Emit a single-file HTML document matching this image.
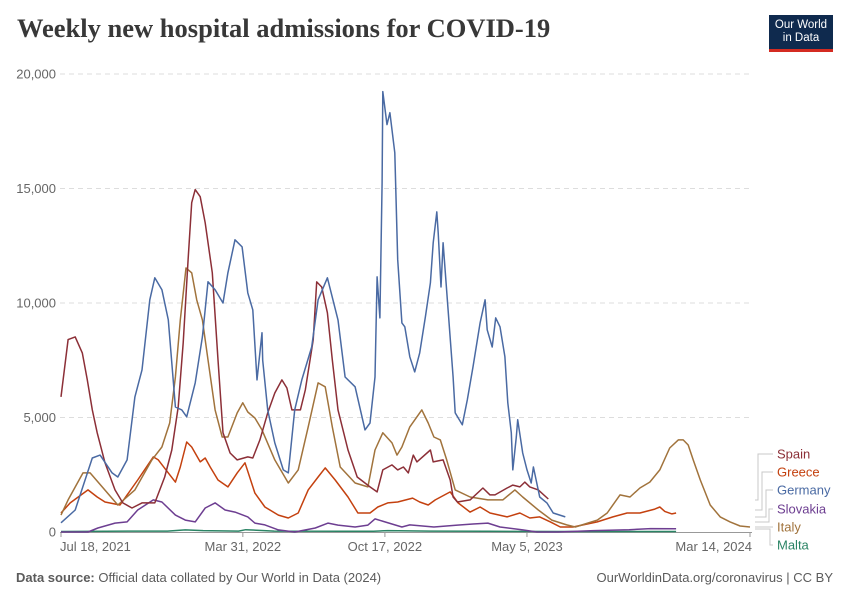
<!DOCTYPE html>
<html><head><meta charset="utf-8">
<style>
body{margin:0;background:#fff;font-family:"Liberation Sans",sans-serif;}
#wrap{position:relative;width:850px;height:600px;overflow:hidden;}
.title{position:absolute;left:17px;top:13px;font-family:"Liberation Serif",serif;font-weight:bold;font-size:26.5px;color:#383838;letter-spacing:0px}
.logo{position:absolute;left:769px;top:15px;width:64px;height:37px;background:#0f2a4e;border-bottom:3px solid #d42b21;color:#fff;font-size:11.5px;line-height:13px;text-align:center;padding-top:4px;box-sizing:border-box}
.foot{position:absolute;top:570px;font-size:13px;color:#5b5b5b}
</style></head><body>
<div id="wrap">
<div class="title">Weekly new hospital admissions for COVID-19</div>
<div class="logo">Our World<br>in Data</div>
<svg id="chart" width="850" height="600" style="position:absolute;left:0;top:0"></svg>
<div class="foot" style="left:16px"><b>Data source:</b> Official data collated by Our World in Data (2024)</div>
<div class="foot" style="right:17px">OurWorldinData.org/coronavirus | CC BY</div>
</div>
<script>
// days since Jul 18, 2021
const yTicks=[0,5000,10000,15000,20000];
const yTickLabels=["0","5,000","10,000","15,000","20,000"];
const xTickDays=[0,256,456,656,970];
const xTickLabels=["Jul 18, 2021","Mar 31, 2022","Oct 17, 2022","May 5, 2023","Mar 14, 2024"];
const seriesNames=["Spain","Greece","Germany","Slovakia","Italy","Malta"];
const seriesColors=["#8c2f37","#c4410f","#4a6aa3","#6d3e91","#a1733c","#2b8465"];
const germanyDays=[0,20,44,55,72,80,93,104,114,125,132,142,151,161,170,177,189,199,207,217,228,235,245,255,263,270,276,283,284,291,301,313,320,329,339,353,362,375,390,400,414,428,435,442,445,449,452,453,459,463,470,474,480,484,491,498,505,513,520,524,529,531,535,538,545,552,555,565,572,580,590,597,600,607,612,618,625,629,634,636,641,643,650,656,662,665,674,684,693,710];
const germanyVals=[400,960,3230,3360,2580,2400,3150,5900,7080,10140,11100,10580,9260,5460,5330,5030,6510,8520,10925,10580,10000,11320,12760,12450,10440,9700,6640,8700,7500,5330,3890,2710,2580,5330,6640,8080,10140,11100,9260,6770,6340,4460,4760,6770,11140,9350,15250,19230,17790,18310,16560,11890,9130,8960,7650,6990,7820,9400,10880,12630,13980,13070,10700,12630,9700,6770,5200,4680,5770,7210,9130,10140,8830,8080,9350,8960,7650,5640,4330,2710,4150,4900,3450,2710,2140,2840,1530,1270,830,660,310];
const spainDays=[0,10,20,30,37,44,51,62,76,87,100,114,132,146,156,165,172,179,184,189,196,203,213,221,228,238,248,263,270,280,291,301,311,318,325,337,344,355,360,367,375,382,390,404,417,435,445,453,466,474,482,489,496,501,520,524,538,548,552,558,576,594,604,611,628,636,646,653,660,672,686,694];
const spainVals=[5900,8400,8520,7820,6640,5330,4330,3020,1840,1270,1050,1270,1270,2400,3580,5460,8260,11890,14380,14950,14640,13500,11320,7520,4330,3450,3150,3280,3230,4020,5200,6070,6640,6290,5330,5330,6200,8390,10920,10700,9570,7520,5330,3580,2400,1970,1750,2710,2930,2710,2840,2580,3360,3060,3580,3060,3150,2270,1530,1310,1400,1920,1620,1620,1920,2050,1970,2180,1970,1840,1440];
const italyDays=[0,10,31,41,58,80,104,128,142,153,161,168,176,184,191,199,207,217,227,235,248,256,263,273,283,301,320,334,348,362,372,382,393,414,432,442,453,466,473,480,491,508,517,525,534,543,555,576,601,622,639,650,672,691,712,724,755,769,787,801,815,829,843,857,869,876,883,890,900,914,928,942,956,970];
const italyVals=[740,1400,2580,2580,1970,1180,1840,3150,3710,4760,6770,9260,11530,11320,10140,9260,7520,5330,4150,4150,5200,5640,5240,4980,4460,3150,2140,2710,4590,6510,6340,4590,2840,2140,1970,3580,4330,3890,3360,3710,4590,5330,4760,4150,4020,3150,1840,1530,1400,1400,1840,1530,960,520,310,220,520,830,1620,1530,1920,2180,2710,3670,4020,4020,3800,3150,2270,1180,660,440,260,220];
const greeceDays=[0,13,38,51,62,83,108,130,137,151,161,168,177,184,196,203,210,221,235,248,259,273,287,306,320,334,348,362,372,386,404,418,435,446,460,474,495,505,517,527,548,559,576,590,604,628,646,660,674,689,703,721,755,777,797,815,836,843,850,860,866];
const greeceVals=[830,1270,1840,1530,1310,1180,2270,3280,3150,2580,2180,2840,3930,3710,3060,3230,2840,2270,1970,2580,3020,1700,1090,740,610,830,1840,2400,2800,2270,1530,830,830,1090,1270,1310,1480,1310,1180,1400,1750,1270,870,1090,830,660,830,610,660,440,220,220,440,660,830,830,1000,1090,900,790,830];
const slovakiaDays=[0,38,52,76,93,108,130,142,161,175,189,203,217,231,245,263,273,287,306,329,358,376,390,414,432,442,456,480,491,525,558,580,601,618,650,670,700,750,800,830,866];
const slovakiaVals=[0,0,175,390,440,960,1400,1310,740,520,440,1050,1270,960,870,660,390,310,90,0,175,390,300,220,300,570,440,220,310,220,300,350,390,220,90,0,0,60,100,150,140];
const maltaDays=[0,100,150,175,200,250,260,300,400,440,460,520,600,700,866];
const maltaVals=[20,40,40,90,60,40,100,40,30,30,60,40,30,20,20];

const svg=document.getElementById('chart');
const NS='http://www.w3.org/2000/svg';
const X0=61,X1=750,D1=970,Y0=532,Y1=74,V1=20000;
function xs(d){return X0+d*(X1-X0)/D1;}
function ys(v){return Y0-v*(Y0-Y1)/V1;}
function mk(tag,attrs){const e=document.createElementNS(NS,tag);for(const k in attrs)e.setAttribute(k,attrs[k]);svg.appendChild(e);return e;}
yTicks.forEach((t,i)=>{
  if(t>0){const g=mk('line',{x1:60,x2:752,y1:ys(t),y2:ys(t),stroke:'#dddddd','stroke-dasharray':'5,4'});
  
  }
  const tx=mk('text',{x:56,y:ys(t)+4.5,'text-anchor':'end','font-size':13,fill:'#666','font-family':'Liberation Sans, sans-serif'});
  tx.textContent=yTickLabels[i];
  
  
});
const ax=mk('line',{x1:60,x2:752,y1:Y0+0.5,y2:Y0+0.5,stroke:'#999'});


xTickDays.forEach((d,i)=>{
  const tk=mk('line',{x1:xs(d),x2:xs(d),y1:Y0,y2:Y0+5,stroke:'#999'});
  
  
  const anchor=i===0?'start':(i===xTickDays.length-1?'end':'middle');
  const tx=mk('text',{x:i===0?xs(d)-1:(i===xTickDays.length-1?xs(d)+2:xs(d)),y:551,'text-anchor':anchor,'font-size':13,fill:'#666','font-family':'Liberation Sans, sans-serif'});
  tx.textContent=xTickLabels[i];
  
  
});
const allDays=[spainDays,greeceDays,germanyDays,slovakiaDays,italyDays,maltaDays];
const allVals=[spainVals,greeceVals,germanyVals,slovakiaVals,italyVals,maltaVals];
const drawOrder=[5,3,1,4,0,2];
drawOrder.forEach(i=>{
  const pts=allDays[i].map((d,j)=>xs(d).toFixed(1)+','+ys(allVals[i][j]).toFixed(1)).join(' ');
  const pl=mk('polyline',{points:pts,fill:'none',stroke:seriesColors[i],'stroke-width':1.5,'stroke-linejoin':'round'});
  
  
});
// legend
const legY=[454,472,490,509,527,545];
seriesNames.forEach((n,i)=>{
  const tx=mk('text',{x:777,y:legY[i]+4.5,'font-size':13,fill:seriesColors[i],'font-family':'Liberation Sans, sans-serif'});
  tx.textContent=n;
  
  
});
const connStartY=[500,510,517,522,527,529];
const connVX=[758,762,766,769,769,770];
connStartY.forEach((sy,i)=>{
  const vx=connVX[i];
  const p=mk('polyline',{points:`755,${sy} ${vx},${sy} ${vx},${legY[i]} 773,${legY[i]}`,fill:'none',stroke:'#c8c8c8','stroke-width':1});
  
  
});
</script>
</body></html>
